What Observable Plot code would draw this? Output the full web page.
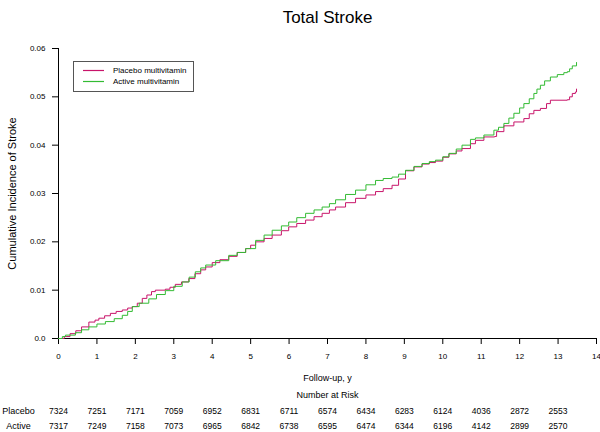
<!DOCTYPE html>
<html><head><meta charset="utf-8">
<script src="https://cdn.jsdelivr.net/npm/d3@7"></script>
<script src="https://cdn.jsdelivr.net/npm/@observablehq/plot@0.6"></script>
<style>
body{margin:0;background:#fff}
#chart svg{font-family:"Liberation Sans",Arial,sans-serif}
</style>
</head><body><div id="chart"></div>
<script>
const title = "Total Stroke";
const yLabel = "Cumulative Incidence of Stroke";
const xLabel = "Follow-up, y";
const riskTitle = "Number at Risk";
const seriesNames = ["Placebo multivitamin", "Active multivitamin"];
const seriesColors = ["#c8146a", "#33bb33"];
const rowLabels = ["Placebo", "Active"];
const xTicks = [0,1,2,3,4,5,6,7,8,9,10,11,12,13,14];
const yTicks = [0,0.01,0.02,0.03,0.04,0.05,0.06];

const placeboT = [0,0.15,0.3,0.45,0.6,0.79,0.95,1.05,1.2,1.35,1.5,1.66,1.8,1.92,2.05,2.18,2.3,2.42,2.52,2.78,2.9,3.04,3.2,3.39,3.55,3.7,3.83,4.0,4.2,4.43,4.65,4.87,5.0,5.13,5.35,5.56,5.8,5.99,6.2,6.43,6.65,6.86,7.05,7.21,7.47,7.73,8.0,8.25,8.45,8.68,8.85,9.03,9.25,9.46,9.65,9.81,10.0,10.16,10.35,10.5,10.72,10.85,11.07,11.35,11.4,11.59,11.85,12.11,12.25,12.37,12.54,12.7,12.8,13.24,13.3,13.37,13.45,13.48];
const placeboV = [0,0.0004,0.0010,0.0016,0.0024,0.0034,0.0038,0.0042,0.0047,0.0052,0.0056,0.0059,0.0063,0.0066,0.0073,0.0083,0.0090,0.0097,0.0100,0.0102,0.0106,0.0112,0.0117,0.0124,0.0134,0.0142,0.0148,0.0157,0.0163,0.0170,0.0178,0.0186,0.0193,0.0200,0.0207,0.0214,0.0223,0.0231,0.0238,0.0245,0.0252,0.0259,0.0266,0.0272,0.0281,0.0290,0.0297,0.0304,0.0310,0.0317,0.0330,0.0347,0.0355,0.0361,0.0364,0.0367,0.0375,0.0382,0.0388,0.0393,0.0403,0.0410,0.0417,0.0418,0.0428,0.0440,0.0448,0.0455,0.0465,0.0472,0.0476,0.0486,0.0493,0.0494,0.0500,0.0507,0.0510,0.0516];

const activeT = [0,0.1,0.18,0.44,0.6,0.79,1.0,1.22,1.45,1.66,1.8,1.92,2.1,2.35,2.55,2.78,3.0,3.22,3.4,3.56,3.7,3.83,4.09,4.43,4.65,4.87,5.13,5.35,5.56,5.8,5.99,6.2,6.43,6.65,6.86,7.05,7.21,7.47,7.73,8.0,8.25,8.45,8.68,8.85,9.03,9.25,9.46,9.65,9.81,10.0,10.16,10.35,10.5,10.72,10.85,11.07,11.33,11.45,11.59,11.72,11.85,12.0,12.11,12.25,12.37,12.45,12.54,12.65,12.8,12.98,13.15,13.24,13.3,13.37,13.48];
const activeV = [0,0.0004,0.0007,0.0012,0.0018,0.0024,0.0030,0.0035,0.0041,0.0048,0.0056,0.0066,0.0073,0.0082,0.0091,0.0099,0.0108,0.0117,0.0127,0.0138,0.0146,0.0152,0.0161,0.0172,0.0178,0.0186,0.0203,0.0214,0.0224,0.0233,0.0241,0.0250,0.0259,0.0266,0.0272,0.0279,0.0287,0.0298,0.0307,0.0318,0.0327,0.0331,0.0334,0.0340,0.0348,0.0356,0.0362,0.0366,0.0369,0.0376,0.0383,0.0392,0.0400,0.0412,0.0415,0.0421,0.0431,0.0437,0.0445,0.0456,0.0466,0.0477,0.0486,0.0496,0.0507,0.0516,0.0524,0.0533,0.0541,0.0546,0.0550,0.0552,0.0558,0.0564,0.0571];

const riskYears = [0,1,2,3,4,5,6,7,8,9,10,11,12,13];
const riskPlacebo = [7324,7251,7171,7059,6952,6831,6711,6574,6434,6283,6124,4036,2872,2553];
const riskActive = [7317,7249,7158,7073,6965,6842,6738,6595,6474,6344,6196,4142,2899,2570];

const curveData = [
  ...placeboT.map((t, i) => ({t, v: placeboV[i], s: seriesNames[0]})),
  ...activeT.map((t, i) => ({t, v: activeV[i], s: seriesNames[1]}))
];
const riskRows = [
  ...riskYears.map((y, i) => ({t: y, n: String(riskPlacebo[i]), row: 0})),
  ...riskYears.map((y, i) => ({t: y, n: String(riskActive[i]), row: 1}))
];

function legendMark(index, scales, values, dims) {
  const g = d3.create("svg:g").attr("font-size", 8).attr("text-anchor", "start");
  const x0 = dims.marginLeft + 15, y0 = dims.marginTop + 13;
  g.append("rect").attr("x", x0 + 0.5).attr("y", y0 + 0.5).attr("width", 120).attr("height", 30)
    .attr("fill", "#fff").attr("stroke", "#555");
  seriesNames.forEach((name, i) => {
    const yy = y0 + 9.5 + i * 11;
    g.append("line").attr("x1", x0 + 10).attr("x2", x0 + 31).attr("y1", yy).attr("y2", yy)
      .attr("stroke", seriesColors[i]).attr("stroke-width", 1.2);
    g.append("text").attr("x", x0 + 40).attr("y", yy).attr("dy", "0.32em")
      .attr("text-anchor", "start").attr("fill", "#000").text(name);
  });
  return g.node();
}

const plot = Plot.plot({
  width: 600, height: 432,
  marginLeft: 58, marginRight: 4, marginTop: 48, marginBottom: 94,
  style: {fontFamily: "Liberation Sans, Arial, sans-serif", fontSize: "8px", color: "#000", background: "#fff"},
  x: {domain: [0, 14]},
  y: {domain: [0, 0.06]},
  color: {domain: seriesNames, range: seriesColors},
  marks: [
    Plot.axisX({ticks: xTicks, tickSize: 6, tickPadding: 9, label: null, fontSize: 8}),
    Plot.axisY({ticks: yTicks, tickSize: 6, tickPadding: 7, label: null, fontSize: 8,
      tickFormat: d => d === 0 ? "0.0" : String(+d.toFixed(2))}),
    Plot.ruleX([0], {stroke: "#000"}),
    Plot.ruleY([0], {stroke: "#000"}),
    Plot.line(curveData, {x: "t", y: "v", stroke: "s", z: "s", curve: "step-after", strokeWidth: 1}),
    legendMark,
    Plot.text([title], {frameAnchor: "top", dy: -38, fontSize: 17}),
    Plot.text([yLabel], {frameAnchor: "left", dx: -46, rotate: -90, textAnchor: "middle", fontSize: 11}),
    Plot.text([xLabel], {frameAnchor: "bottom", dy: 42, fontSize: 9}),
    Plot.text([riskTitle], {frameAnchor: "bottom", dy: 59, fontSize: 9}),
    Plot.text(riskRows.filter(d => d.row === 0), {x: "t", text: "n", frameAnchor: "bottom", dy: 75, fontSize: 8.5}),
    Plot.text(riskRows.filter(d => d.row === 1), {x: "t", text: "n", frameAnchor: "bottom", dy: 90, fontSize: 8.5}),
    Plot.text([rowLabels[0]], {frameAnchor: "bottom-left", dx: -40, dy: 75, textAnchor: "middle", fontSize: 9}),
    Plot.text([rowLabels[1]], {frameAnchor: "bottom-left", dx: -40, dy: 90, textAnchor: "middle", fontSize: 9})
  ]
});
document.getElementById("chart").appendChild(plot);
</script>
</body></html>
